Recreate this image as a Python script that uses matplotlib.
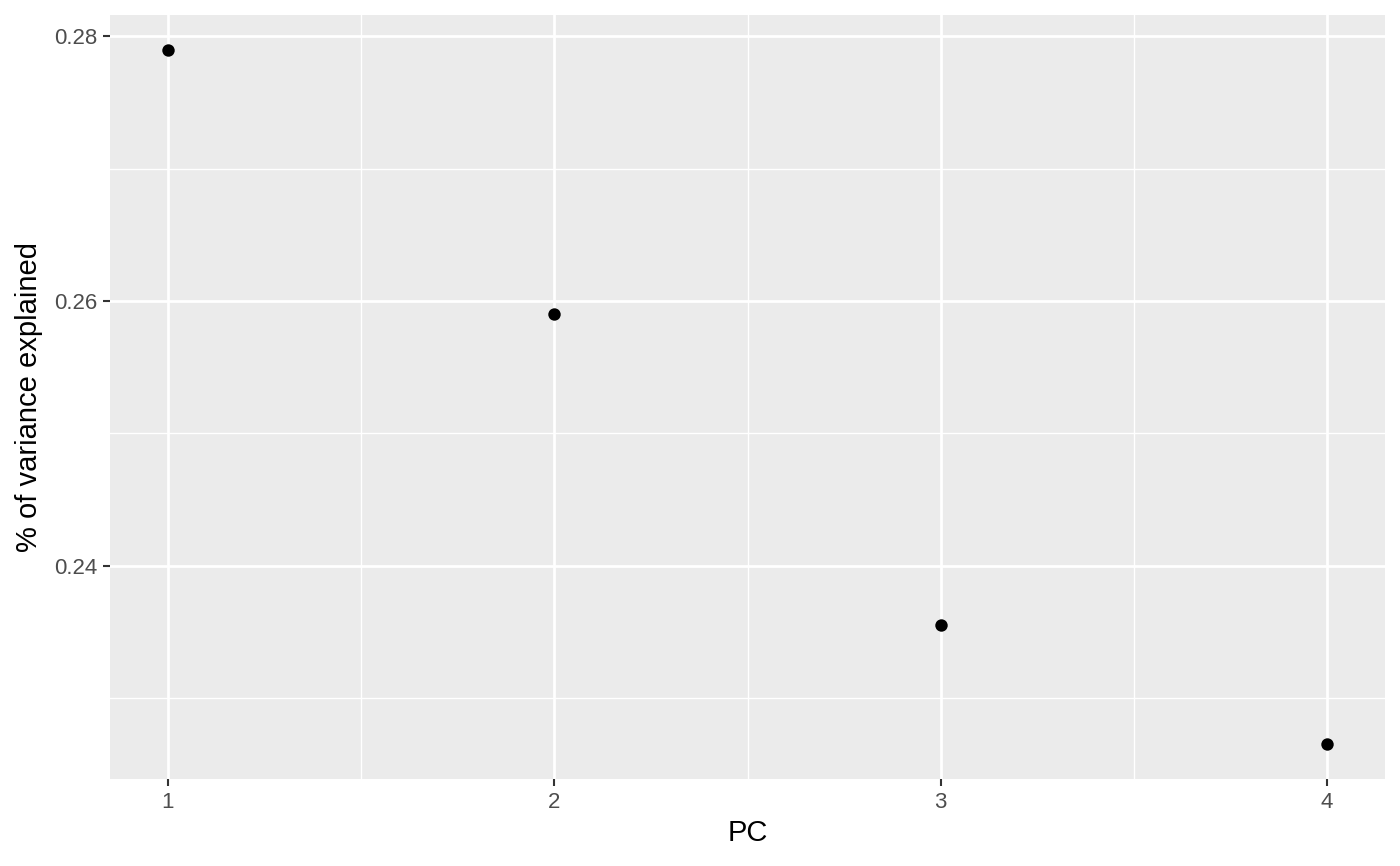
import matplotlib
matplotlib.use("Agg")
import matplotlib.pyplot as plt
from matplotlib.ticker import MultipleLocator

# variance explained per principal component
pcs = [1, 2, 3, 4]
var_explained = [0.2790, 0.2590, 0.2355, 0.2265]

x_ticks = [1, 2, 3, 4]
y_ticks = [0.24, 0.26, 0.28]

plt.rcParams['font.family'] = ['Liberation Sans', 'DejaVu Sans']

fig = plt.figure(figsize=(14, 8.66), dpi=100)
ax = fig.add_axes([110/1400, 1 - 779/866, 1275/1400, 764/866])
ax.set_facecolor('#EBEBEB')

# ggplot-like 5% expansion
xr = max(pcs) - min(pcs)
yr = max(var_explained) - min(var_explained)
ax.set_xlim(min(pcs) - 0.05*xr, max(pcs) + 0.05*xr)
ax.set_ylim(min(var_explained) - 0.05*yr, max(var_explained) + 0.05*yr)

ax.set_xticks(x_ticks)
ax.set_yticks(y_ticks)
ax.set_yticklabels(["%.2f" % v for v in y_ticks])
ax.xaxis.set_minor_locator(MultipleLocator(0.5))
ax.yaxis.set_minor_locator(MultipleLocator(0.01))

ax.grid(which='major', color='white', linewidth=2.0)
ax.grid(which='minor', color='white', linewidth=1.0)
ax.set_axisbelow(True)

for s in ax.spines.values():
    s.set_visible(False)

ax.tick_params(which='major', length=5, width=1.5, color='#333333',
               labelsize=16, labelcolor='#4D4D4D', pad=4)
ax.tick_params(which='minor', length=0)

ax.scatter(pcs, var_explained, s=80, color='black', zorder=3, linewidths=0)

ax.set_xlabel("PC", fontsize=21, color='black', labelpad=5)
ax.set_ylabel("% of variance explained", fontsize=21, color='black', labelpad=8)

fig.savefig("out.png", dpi=100)
